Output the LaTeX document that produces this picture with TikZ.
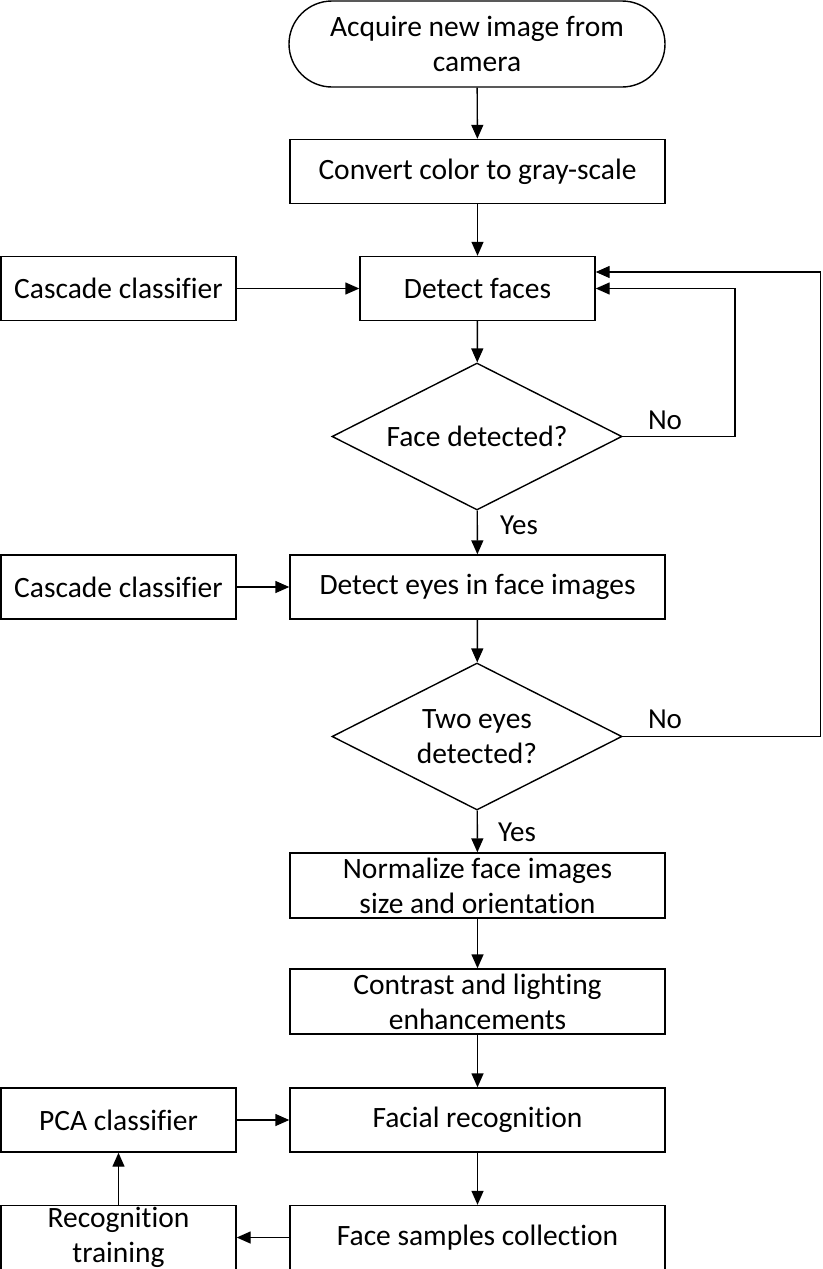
\documentclass[tikz,border=0pt]{standalone}
\usepackage{fontspec}
\setmainfont[Ligatures=NoCommon]{Carlito}
\usetikzlibrary{arrows.meta,shapes.geometric}
\begin{document}
\begin{tikzpicture}[x=1pt,y=1pt,
  every node/.style={font=\fontsize{29.5}{35}\selectfont, inner sep=0pt, align=center},
  box/.style={draw, line width=1.4pt, minimum width=375pt, minimum height=64pt},
  sbox/.style={box, minimum width=235pt},
  dec/.style={draw, line width=1.4pt, diamond, shape aspect=2, minimum width=290pt, minimum height=147pt},
  term/.style={box, minimum width=376pt, minimum height=86pt, rounded corners=43pt},
  arr/.style={line width=1.4pt, -{Triangle[length=14pt,width=12pt]}},
  lab/.style={font=\fontsize{29}{34}\selectfont}]
\useasboundingbox (0,0) rectangle (822,-1269);
\node[term] (start) at (477,-44) {Acquire new image from\\camera};
\node[box] (gray) at (477.5,-171.5) {Convert color to gray-scale};
\node[sbox] (faces) at (477.5,-288.5) {Detect faces};
\node[sbox] (casc1) at (118.5,-288.5) {Cascade classifier};
\node[dec] (d1) at (477,-436.5) {Face detected?};
\node[box] (eyes) at (477.5,-587) {Detect eyes in face images};
\node[sbox] (casc2) at (118.5,-587) {Cascade classifier};
\node[dec] (d2) at (477,-736.5) {Two eyes\\detected?};
\node[box, minimum height=65pt] (norm) at (477.5,-885.5) {Normalize face images\\size and orientation};
\node[box, minimum height=65pt] (contrast) at (477.5,-1001.5) {Contrast and lighting\\enhancements};
\node[box] (facial) at (477.5,-1120) {Facial recognition};
\node[sbox] (pca) at (118.5,-1120) {PCA classifier};
\node[box] (samples) at (477.5,-1237.5) {Face samples collection};
\node[sbox] (train) at (118.5,-1237.5) {Recognition\\training};
\node[lab] (no1) at (665,-420) {No};
\node[lab] (yes1) at (519,-525) {Yes};
\node[lab] (no2) at (665,-719) {No};
\node[lab] (yes2) at (517,-832) {Yes};
\coordinate (r1) at (735,0);
\coordinate (r2) at (820.5,0);
\coordinate (fin) at ([yshift=16.5pt]faces.east);
\draw[arr] (start) -- (gray);
\draw[arr] (gray) -- (faces);
\draw[arr] (casc1) -- (faces);
\draw[arr] (faces) -- (d1);
\draw[arr] (d1.east) -- (d1.east -| r1) -- (faces.east -| r1) -- (faces.east);
\draw[arr] (d1) -- (eyes);
\draw[arr] (casc2) -- (eyes);
\draw[arr] (eyes) -- (d2);
\draw[arr] (d2.east) -- (d2.east -| r2) -- (fin -| r2) -- (fin);
\draw[arr] (d2) -- (norm);
\draw[arr] (norm) -- (contrast);
\draw[arr] (contrast) -- (facial);
\draw[arr] (pca) -- (facial);
\draw[arr] (facial) -- (samples);
\draw[arr] (samples) -- (train);
\draw[arr] (train) -- (pca);
\end{tikzpicture}
\end{document}
